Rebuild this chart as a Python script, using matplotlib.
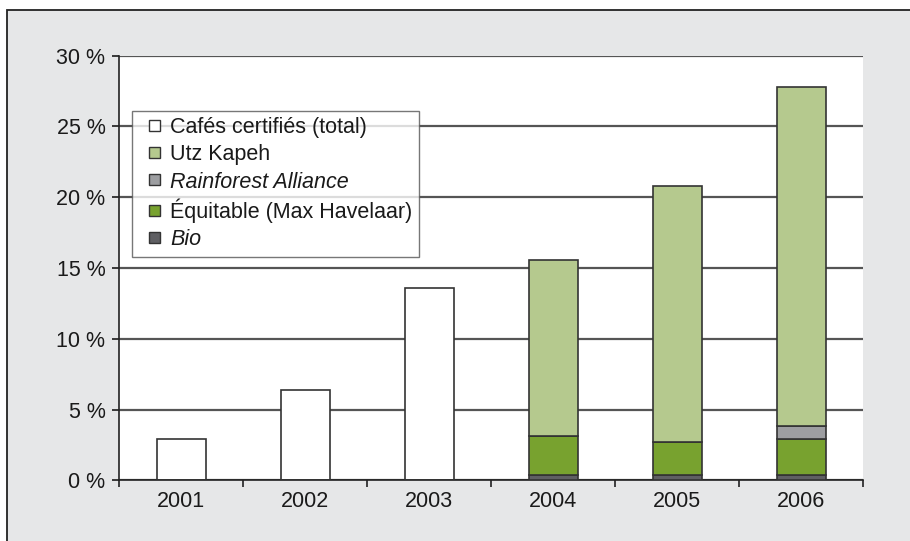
import matplotlib.pyplot as plt
import numpy as np
from matplotlib.patches import Patch, Rectangle
from matplotlib.legend_handler import HandlerPatch

plt.rcParams['font.family'] = ['Liberation Sans', 'DejaVu Sans']

# données
annees = ['2001', '2002', '2003', '2004', '2005', '2006']
total_certifie = [2.9, 6.4, 13.6, 0, 0, 0]  # barres blanches (total seulement)
bio = [0, 0, 0, 0.4, 0.4, 0.4]
equitable = [0, 0, 0, 2.75, 2.33, 2.54]
rainforest = [0, 0, 0, 0, 0, 0.9]
utz = [0, 0, 0, 12.45, 18.07, 23.96]

col_total = 'white'
col_utz = '#b5c98e'
col_rain = '#9d9ea1'
col_equi = '#78a22f'
col_bio = '#5f5f63'
bord = '#333333'

fig = plt.figure(figsize=(9.1, 5.41), dpi=100)
fig.patch.set_facecolor('white')
# cadre gris
fig.patches.append(Rectangle((7 / 910, -0.05), 1.2, 1 - 10 / 541 + 0.05, transform=fig.transFigure,
                             facecolor='#e6e7e8', edgecolor='#222222', linewidth=1.3, zorder=-10))

ax = fig.add_axes([119.3 / 910, 1 - 480.3 / 541, (863.3 - 119.3) / 910, (480.3 - 55.7) / 541])
ax.set_facecolor('white')

x = np.arange(len(annees))
w = 0.4
kw = dict(width=w, edgecolor=bord, linewidth=1.2, zorder=3)
ax.bar(x, total_certifie, color=col_total, **kw)
b0 = np.array(bio)
ax.bar(x, bio, color=col_bio, **kw)
b1 = b0 + np.array(equitable)
ax.bar(x, equitable, bottom=b0, color=col_equi, **kw)
b2 = b1 + np.array(rainforest)
ax.bar(x, rainforest, bottom=b1, color=col_rain, **kw)
ax.bar(x, utz, bottom=b2, color=col_utz, **kw)

ax.set_xlim(-0.5, len(annees) - 0.5)
ax.set_ylim(0, 30)
ax.set_yticks(np.arange(0, 31, 5))
ax.set_yticklabels(['%d %%' % v for v in range(0, 31, 5)])
ax.set_xticks(x)
ax.set_xticklabels(annees)
ax.set_xticks(np.arange(-0.5, len(annees), 1), minor=True)
ax.tick_params(axis='x', which='major', length=0, pad=8, labelsize=15.5, colors='#1a1a1a')
ax.tick_params(axis='x', which='minor', length=5, width=1.2, color='#222222')
ax.tick_params(axis='y', length=5, width=1.2, pad=5, labelsize=15.5, colors='#1a1a1a')
ax.yaxis.grid(True, color='#555555', linewidth=1.6, zorder=1)
ax.set_axisbelow(True)
for s in ['top', 'right']:
    ax.spines[s].set_visible(False)
for s in ['left', 'bottom']:
    ax.spines[s].set_color('#222222')
    ax.spines[s].set_linewidth(1.2)


# petit carré placé à droite de la zone de la poignée
def carre(legend, orig_handle, xdescent, ydescent, width, height, fontsize):
    return Rectangle((-xdescent + width - height, -ydescent), height, height)


handles = [Patch(facecolor=col_total, edgecolor=bord, linewidth=1.0),
           Patch(facecolor=col_utz, edgecolor=bord, linewidth=1.0),
           Patch(facecolor=col_rain, edgecolor=bord, linewidth=1.0),
           Patch(facecolor=col_equi, edgecolor=bord, linewidth=1.0),
           Patch(facecolor=col_bio, edgecolor=bord, linewidth=1.0)]
labels = ['Cafés certifiés (total)', 'Utz Kapeh', 'Rainforest Alliance',
          'Équitable (Max Havelaar)', 'Bio']
leg = ax.legend(handles, labels, loc='upper left', bbox_to_anchor=(12.4 / 744, (480.3 - 111) / 424.6),
                fontsize=15.5, frameon=True, fancybox=False, edgecolor='#555555',
                handlelength=1.0, handleheight=0.4, handletextpad=0.5,
                labelspacing=0.28, borderpad=0.3, borderaxespad=0,
                handler_map={Patch: HandlerPatch(patch_func=carre)})
leg.get_frame().set_linewidth(1.0)
leg.set_zorder(5)
for t in leg.get_texts():
    t.set_color('#1a1a1a')
for i in (2, 4):
    leg.get_texts()[i].set_fontstyle('italic')

plt.savefig('out.png', dpi=100)
